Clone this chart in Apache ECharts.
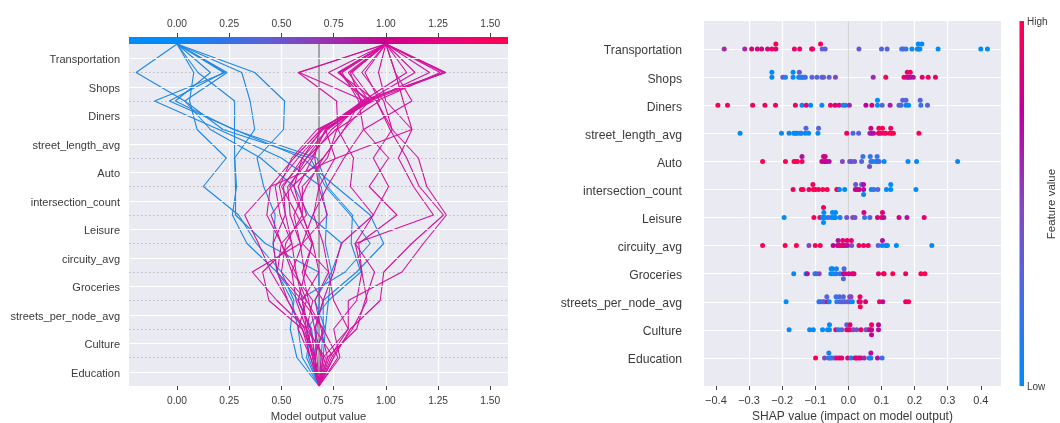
<!DOCTYPE html>
<html><head><meta charset="utf-8">
<style>html,body{margin:0;padding:0;background:#fff}#c{width:1060px;height:423px}</style>
<script src="https://cdn.jsdelivr.net/npm/echarts@6/dist/echarts.min.js"></script>
</head><body><div id="c"></div>
<script>
const features = ['Transportation','Shops','Diners','street_length_avg','Auto','intersection_count','Leisure','circuity_avg','Groceries','streets_per_node_avg','Culture','Education'];
const decisionTicks = [0,0.25,0.5,0.75,1,1.25,1.5];
const shapTicks = [-0.4,-0.3,-0.2,-0.1,0,0.1,0.2,0.3,0.4];
const baseValue = 0.68;
// decision levels, top of the plot to the bottom
const levels = [11.5,10.5,9.5,8.5,7.5,6.5,5.5,4.5,3.5,2.5,1.5,0.5,-0.5];
const rowCenters = [0,1,2,3,4,5,6,7,8,9,10,11];
const blueLines = [
 [0,.372,.515,.51,.383,.415,.47,.46,.478,.55,.58,.60,.68],
 [0,.31,.35,.372,.276,.285,.265,.335,.478,.58,.645,.66,.68],
 [0,.10,.276,.275,.276,.28,.28,.423,.678,.682,.67,.66,.68],
 [0,.08,.06,.096,.236,.126,.295,.38,.50,.56,.542,.574,.68],
 [0,.24,.037,.16,.40,.56,.63,.79,.74,.66,.71,.65,.68],
 [0,-.196,.037,.22,.638,.71,.83,.925,.805,.58,.64,.62,.68],
 [0,.16,-.008,.27,.67,.72,.84,.834,.88,.725,.71,.70,.68],
 [0,.223,-.037,.275,.60,.76,.925,.99,.86,.70,.70,.69,.68],
 [0,.231,-.108,.20,.50,.69,.717,.71,.74,.725,.62,.63,.68]
];
const magentaLines = [
 [1,.58,.764,.77,.845,.83,.94,.786,.75,.70,.66,.67,.68],
 [1,.585,.90,.69,.56,.447,.43,.50,.55,.57,.62,.65,.68],
 [1,.725,.93,.70,.58,.47,.494,.55,.41,.44,.60,.66,.68],
 [1,.77,.955,1.03,.94,1.013,.94,.853,.946,.90,.86,.72,.68],
 [1,.777,.89,.72,.60,.51,.518,.46,.48,.60,.62,.66,.68],
 [1,.78,.91,.74,.64,.53,.542,.59,.36,.478,.62,.65,.68],
 [1,.79,.87,.893,1.013,.92,1.053,.87,.885,.91,.84,.74,.68],
 [1,.82,.92,.72,.62,.50,.574,.646,.614,.58,.64,.66,.68],
 [1,.83,.88,.80,.70,.55,.45,.50,.566,.62,.58,.64,.68],
 [1,.837,.94,.67,.55,.49,.52,.55,.57,.60,.70,.66,.68],
 [1,.885,.99,1.03,1.156,1.196,1.29,1.18,1.077,.82,.82,.70,.68],
 [1,.90,.97,.765,.72,.60,.60,.65,.60,.63,.66,.69,.68],
 [1,.965,1.0,1.125,.765,.447,.324,.39,.45,.53,.60,.64,.68],
 [1,1.045,1.125,.893,.80,.72,.65,.60,.726,.66,.69,.72,.68],
 [1,1.10,.89,.693,.60,.56,.60,.65,.68,.60,.63,.70,.68],
 [1,1.14,.91,.71,.65,.58,.62,.50,.48,.53,.61,.65,.68],
 [1,1.21,.92,.68,.66,.678,.72,.60,.55,.65,.62,.71,.68],
 [1,1.26,.955,1.02,1.10,1.16,1.276,1.124,.99,.973,.83,.75,.68],
 [1,1.045,1.083,1.125,1.06,1.132,1.228,.853,.885,.86,.75,.78,.68],
 [1,1.275,.90,.71,.757,.68,.654,.70,.726,.75,.82,.73,.68],
 [1,1.285,.92,.80,.70,.62,.56,.59,.61,.70,.66,.75,.68],
 [1,1.287,.88,.76,.62,.54,.60,.52,.50,.62,.70,.77,.68]
];
// [SHAP value, swarm lane, feature value 0..1]
const shapTransportation = [[-.375,0,.6],[-.313,0,.6],[-.292,0,.85],[-.275,0,.85],[-.262,0,.85],[-.244,0,.85],[-.231,0,.95],[-.219,0,.9],[-.219,1,1],[-.163,0,.95],[-.147,0,.9],[-.111,0,.9],[-.108,0,.95],[-.084,1,1],[-.079,0,.35],[-.07,0,.35],[.032,0,.4],[.10,0,.3],[.117,0,.3],[.161,0,.25],[.166,0,.25],[.174,0,.2],[.192,0,0],[.208,0,.1],[.211,0,.1],[.216,0,0],[.211,1,0],[.222,1,0],[.271,0,0],[.40,0,0],[.42,0,0]];
const shapShops = [[-.231,1,0],[-.231,0,0],[-.167,1,0],[-.167,0,0],[-.148,1,.4],[-.198,0,.35],[-.19,0,.1],[-.15,0,0],[-.145,0,.1],[-.14,0,.1],[-.135,0,.2],[-.13,0,.2],[-.11,0,.3],[-.095,0,.3],[-.08,0,.35],[-.075,0,.35],[-.058,0,.35],[-.039,0,.5],[.075,0,.6],[.113,0,1],[.168,0,.95],[.176,0,.85],[.182,0,.7],[.188,0,.7],[.196,0,.7],[.178,1,.9],[.187,1,.95],[.223,0,.9],[.241,0,.95],[.263,0,.95]];
const shapDiners = [[-.394,0,1],[-.365,0,1],[-.289,0,.95],[-.252,0,.95],[-.22,0,.95],[-.16,0,.95],[-.14,0,.05],[-.127,0,.9],[-.114,0,0],[-.08,0,0],[-.054,0,.95],[-.04,0,.85],[-.028,0,.9],[-.016,0,.1],[-.009,0,.1],[.003,0,.6],[.053,0,.75],[.071,0,.8],[.088,0,0],[.088,1,0],[.102,0,.3],[.126,0,.65],[.153,0,.35],[.159,0,.3],[.174,0,0],[.182,0,0],[.164,1,.3],[.174,1,.3],[.217,1,.3],[.219,0,.2],[.239,0,.3]];
const shapStreetLength = [[-.327,0,0],[-.202,0,0],[-.179,0,0],[-.165,0,0],[-.16,0,0],[-.155,0,0],[-.146,0,0],[-.142,0,.1],[-.13,0,0],[-.12,0,0],[-.128,1,.3],[-.092,0,0],[-.09,1,.3],[-.005,0,.95],[.014,0,.3],[.031,0,.3],[.065,0,.6],[.07,0,.7],[.076,0,.7],[.068,1,.8],[.091,0,.95],[.096,0,.9],[.105,0,.95],[.113,0,.95],[.125,0,1],[.131,0,1],[.136,0,1],[.092,1,.95],[.103,1,1],[.128,1,.95],[.213,0,1]];
const shapAuto = [[-.259,0,1],[-.19,0,1],[-.164,0,1],[-.159,0,1],[-.154,0,1],[-.14,0,.95],[-.14,1,.7],[-.08,0,.8],[-.073,0,.8],[-.066,0,.75],[-.058,0,.7],[-.075,1,.8],[-.07,1,.85],[-.018,0,.5],[.004,0,.4],[.01,0,.4],[.019,0,.4],[.04,0,.3],[.044,1,.2],[.066,1,.2],[.087,1,.2],[.064,-1,.4],[.068,0,.2],[.073,0,.2],[.083,0,0],[.087,0,0],[.093,0,.3],[.108,0,0],[.18,0,0],[.206,0,0],[.33,0,0]];
const shapIntersection = [[-.167,0,.95],[-.142,0,1],[-.137,0,1],[-.119,0,.95],[-.106,0,1],[-.1,0,1],[-.09,0,.95],[-.107,1,.95],[-.077,0,1],[-.064,0,1],[-.035,0,.95],[-.031,0,.9],[-.027,0,0],[-.011,0,0],[.021,0,.8],[.026,0,.8],[.033,0,.8],[.046,0,.75],[.022,1,.4],[.04,1,.4],[.046,1,.7],[.046,-1,0],[.069,0,0],[.077,0,.2],[.089,0,.3],[.115,0,0],[.128,0,0],[.128,1,0],[.204,0,0]];
const shapLeisure = [[-.194,0,0],[-.104,0,1],[-.086,0,.95],[-.078,0,0],[-.075,0,0],[-.07,0,0],[-.06,0,.2],[-.05,0,0],[-.043,0,0],[-.039,0,0],[-.025,0,.1],[-.005,0,.4],[.013,0,.5],[.02,0,.4],[.049,0,.2],[.065,0,.3],[.088,0,.85],[.1,0,.95],[.107,0,.7],[.153,0,.85],[.177,0,.7],[.229,0,.9],[-.075,2,1],[-.074,1,0],[-.048,1,0],[-.039,1,0],[.047,1,.85],[.103,1,.9],[-.075,-1,0]];
const shapCircuity = [[-.259,0,1],[-.191,0,1],[-.157,0,1],[-.119,0,.5],[-.1,0,1],[-.085,0,.95],[-.046,0,.75],[-.033,0,.8],[-.027,0,.9],[-.021,0,.9],[-.015,0,.85],[-.009,0,.85],[-.002,0,.7],[.01,0,.4],[.032,0,.95],[.046,0,.95],[.06,0,.95],[.09,0,.35],[.102,0,0],[.113,0,.1],[.118,0,0],[.145,0,0],[.252,0,0],[-.031,1,.7],[-.017,1,.9],[-.004,1,.9],[.009,1,.9],[.103,1,.7]];
const shapGroceries = [[-.165,0,0],[-.128,0,0],[-.124,0,.7],[-.101,0,.2],[-.097,0,.2],[-.088,0,.5],[-.053,0,0],[-.045,0,0],[-.037,0,.1],[-.025,0,.2],[-.015,0,.8],[-.009,0,.85],[.002,0,.85],[.012,0,.85],[.017,0,.9],[.091,0,.9],[.106,0,1],[.108,0,1],[.134,0,1],[.173,0,.95],[.219,0,1],[.231,0,1],[-.052,1,0],[-.048,1,0],[-.036,1,.1],[-.013,1,.3],[-.015,-1,.3]];
const shapStreetsPerNode = [[-.188,0,0],[-.089,0,.1],[-.085,0,.2],[-.077,0,.3],[-.073,0,.3],[-.063,0,.9],[-.058,0,0],[-.035,0,.1],[-.025,0,.3],[-.018,0,.3],[-.011,0,.3],[-.001,0,.4],[.004,0,.3],[.012,0,0],[.032,0,.9],[.036,0,.9],[.052,0,.85],[.094,0,1],[.104,0,.7],[.173,0,.9],[.182,0,1],[-.065,1,.3],[-.037,1,.2],[-.027,1,.3],[-.015,1,.3],[.004,1,.5],[.008,1,.5],[.035,1,.95],[.036,-1,1]];
const shapCulture = [[-.179,0,0],[-.117,0,0],[-.106,0,0],[-.078,0,0],[-.063,0,0],[-.057,0,0],[-.038,0,.95],[-.03,0,.1],[-.02,0,.3],[-.005,0,.9],[0,0,.9],[.005,0,.9],[.015,0,.5],[.025,0,.45],[.038,0,.95],[.053,0,.4],[.06,0,.5],[.065,0,.8],[.07,0,.8],[.091,0,.7],[-.057,1,0],[-.005,1,.3],[.005,1,.9],[.07,1,.95],[.091,1,.8],[.07,-1,.8]];
const shapEducation = [[-.099,0,1],[-.072,0,.5],[-.06,0,.2],[-.055,0,.2],[-.05,0,.2],[-.042,0,.3],[-.035,0,.95],[-.027,0,.9],[-.02,0,.9],[-.002,0,.9],[.008,0,0],[.02,0,.9],[.025,0,.9],[.032,0,.85],[.038,0,.85],[.048,0,.6],[.063,0,0],[.068,0,.1],[.088,0,.7],[.102,0,.2],[-.059,1,.1],[.068,1,.7]];
const shapRows = [shapTransportation,shapShops,shapDiners,shapStreetLength,shapAuto,shapIntersection,shapLeisure,shapCircuity,shapGroceries,shapStreetsPerNode,shapCulture,shapEducation];

const stops = [[0,[0,139,251]],[.25,[70,108,228]],[.5,[135,70,190]],[.75,[190,0,155]],[1,[255,0,81]]];
function fcolor(f){
  for(let i=1;i<stops.length;i++){ if(f<=stops[i][0]){ const a=stops[i-1],b=stops[i],t=(f-a[0])/(b[0]-a[0]);
    return 'rgb('+a[1].map((v,k)=>Math.round(v+(b[1][k]-v)*t)).join(',')+')'; } }
  return 'rgb(255,0,81)';
}
const gradStops = stops.map(s=>({offset:s[0],color:fcolor(s[0])}));
const FONT='"Liberation Sans"', TXT='#3a3a3a', GRID='#ffffff', BG='#eaeaf2';
const rowName = v => Number.isInteger(v) && v>=0 && v<features.length ? '{a|'+features[features.length-1-v]+'}' : '';

const chart = echarts.init(document.getElementById('c'),null,{renderer:'canvas'});
const decTickVals = decisionTicks, xLab = {color:TXT,fontFamily:FONT,fontSize:10.2};
const series = [];
series.push({type:'line',xAxisIndex:0,yAxisIndex:0,symbol:'none',silent:true,z:1,animation:false,data:[],
  markLine:{silent:true,symbol:'none',label:{show:false},animation:false,lineStyle:{color:GRID,width:1.2,type:'solid'},
    data:rowCenters.map(y=>({yAxis:y}))}});
series.push({type:'line',xAxisIndex:0,yAxisIndex:0,symbol:'none',silent:true,z:2,animation:false,
  lineStyle:{color:'#8c8c8c',width:1.5},data:[[baseValue,-0.5],[baseValue,11.5]]});
blueLines.forEach(l=>series.push({type:'line',xAxisIndex:0,yAxisIndex:0,symbol:'none',z:3,animation:false,
  lineStyle:{color:'#1e88e5',width:1.1},data:l.map((v,i)=>[v,levels[i]])}));
magentaLines.forEach(l=>series.push({type:'line',xAxisIndex:0,yAxisIndex:0,symbol:'none',z:4,animation:false,
  lineStyle:{color:'#d4129c',width:1.1},data:l.map((v,i)=>[v,levels[i]])}));
series.push({type:'line',xAxisIndex:2,yAxisIndex:2,symbol:'none',silent:true,z:2,animation:false,
  lineStyle:{color:'#cfcfcf',width:1},data:[[0,-1],[0,12]]});
shapRows.forEach((rows,r)=>series.push({type:'scatter',xAxisIndex:2,yAxisIndex:2,symbolSize:5,z:5,animation:false,
  data:rows.map(d=>({value:[d[0],features.length-1-r+d[1]*0.178],itemStyle:{color:fcolor(d[2]),opacity:1}}))}));

chart.setOption({
  animation:false,
  grid:[
    {left:129,top:44,width:379,height:342,show:true,backgroundColor:BG,borderWidth:0,outerBoundsMode:'none'},
    {left:704,top:21,width:297,height:365,show:true,backgroundColor:BG,borderWidth:0,outerBoundsMode:'none'}
  ],
  xAxis:[
    {type:'value',gridIndex:0,position:'bottom',min:-0.23,max:1.585,interval:.25,
     axisLine:{show:false,onZero:false},axisTick:{show:true,length:4,lineStyle:{color:'#444'},customValues:decTickVals},
     axisLabel:{...xLab,margin:10,customValues:decTickVals,formatter:v=>v.toFixed(2)},
     splitLine:{show:true,showMinLine:false,showMaxLine:false,lineStyle:{color:GRID,width:1.2}},
     name:'Model output value',nameLocation:'middle',nameGap:25,nameTextStyle:{color:TXT,fontFamily:FONT,fontSize:11.3}},
    {type:'value',gridIndex:0,position:'top',offset:7,min:-0.23,max:1.585,interval:.25,
     axisLine:{show:false,onZero:false},axisTick:{show:true,length:4,lineStyle:{color:'#444'},customValues:decTickVals},
     axisLabel:{...xLab,margin:8,customValues:decTickVals,formatter:v=>v.toFixed(2)},splitLine:{show:false}},
    {type:'value',gridIndex:1,position:'bottom',min:-0.436,max:0.461,interval:.1,
     axisLine:{show:false,onZero:false},axisTick:{show:true,length:4,lineStyle:{color:'#444'},customValues:shapTicks},
     axisLabel:{color:TXT,fontFamily:FONT,fontSize:11,margin:9,customValues:shapTicks,formatter:v=>(v<0?'\u2212':'')+Math.abs(v).toFixed(1)},
     splitLine:{show:true,showMinLine:false,showMaxLine:false,lineStyle:{color:GRID,width:1.2}},
     name:'SHAP value (impact on model output)',nameLocation:'middle',nameGap:24,nameTextStyle:{color:TXT,fontFamily:FONT,fontSize:12}}
  ],
  yAxis:[
    {type:'value',gridIndex:0,position:'left',min:-0.5,max:11.5,interval:.5,axisLine:{show:false,onZero:false},axisTick:{show:false},
     axisLabel:{margin:9,showMinLabel:false,showMaxLabel:false,formatter:rowName,
       rich:{a:{color:TXT,fontFamily:FONT,fontSize:11,padding:[4,0,0,0]}}},
     splitLine:{show:false}},
    {type:'value',gridIndex:0,position:'right',min:0,max:12,interval:1,axisLine:{show:false,onZero:false},axisTick:{show:false},axisLabel:{show:false},
     splitLine:{show:true,showMinLine:false,showMaxLine:false,lineStyle:{color:'#b9b9bd',width:1,type:[1.5,2.5]}}},
    {type:'value',gridIndex:1,position:'left',min:-1,max:12,interval:1,axisLine:{show:false,onZero:false},axisTick:{show:false},
     axisLabel:{margin:22,formatter:rowName,
       rich:{a:{color:TXT,fontFamily:FONT,fontSize:12.2,padding:[4,0,0,0]}}},
     splitLine:{show:true,showMinLine:false,showMaxLine:false,lineStyle:{color:GRID,width:1.2}}}
  ],
  series,
  graphic:[
    {type:'rect',shape:{x:129,y:37,width:379,height:7},z:10,silent:true,
     style:{fill:new echarts.graphic.LinearGradient(0,0,1,0,[{offset:0,color:fcolor(0)},{offset:.13,color:fcolor(0)},{offset:.36,color:fcolor(.33)},{offset:.5,color:fcolor(.55)},{offset:.68,color:fcolor(.8)},{offset:.82,color:'#e6007f'},{offset:1,color:fcolor(1)}])}},
    {type:'rect',shape:{x:1019.5,y:21,width:4.5,height:365},z:10,silent:true,
     style:{fill:new echarts.graphic.LinearGradient(0,1,0,0,gradStops)}},
    {type:'text',x:1027,y:22,z:10,style:{text:'High',fill:TXT,font:'10px "Liberation Sans"',textVerticalAlign:'middle'}},
    {type:'text',x:1027,y:387,z:10,style:{text:'Low',fill:TXT,font:'10px "Liberation Sans"',textVerticalAlign:'middle'}},
    {type:'text',x:1052,y:204,rotation:Math.PI/2,z:10,style:{text:'Feature value',fill:TXT,font:'11.5px "Liberation Sans"',textAlign:'center',textVerticalAlign:'middle'}}
  ]
});
</script></body></html>
